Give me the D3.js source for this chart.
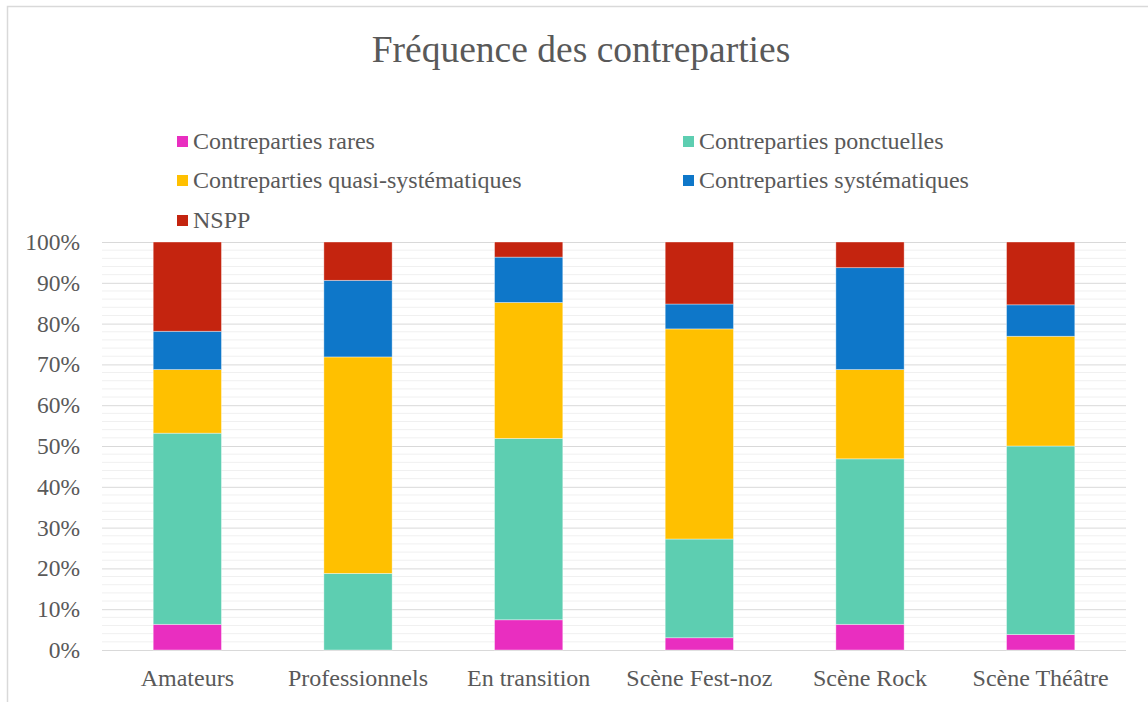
<!DOCTYPE html>
<html>
<head>
<meta charset="utf-8">
<script src="https://cdn.jsdelivr.net/npm/d3@7"></script>
<style>
  body { margin: 0; background: #fff; }
  svg { display: block; font-family: "Liberation Serif", "Times New Roman", serif; }
</style>
</head>
<body>
<svg class="chart-svg" width="1148" height="702"></svg>
<script>
// Categories and series (percent of answers per group)
var categories = ["Amateurs", "Professionnels", "En transition", "Scène Fest-noz", "Scène Rock", "Scène Théâtre"];
var seriesNames = ["Contreparties rares", "Contreparties ponctuelles", "Contreparties quasi-systématiques", "Contreparties systématiques", "NSPP"];
var rares        = [6.3, 0,    7.4,  3.0,  6.3,  3.8];
var ponctuelles  = [46.9, 18.8, 44.4, 24.2, 40.6, 46.2];
var quasiSyst    = [15.6, 53.1, 33.3, 51.5, 21.9, 26.9];
var systematiques = [9.4, 18.8, 11.1, 6.1,  25.0, 7.7];
var nspp         = [21.9, 9.4,  3.7,  15.2, 6.3,  15.4];
var yTicks = [0, 0.1, 0.2, 0.3, 0.4, 0.5, 0.6, 0.7, 0.8, 0.9, 1];
var colors = ["#e92ec0", "#5dceb1", "#ffc000", "#0e77c9", "#c4240f"];

var seriesValues = [rares, ponctuelles, quasiSyst, systematiques, nspp];

// Build table for d3.stack
var table = categories.map(function(c, i) {
    var row = {category: c};
    seriesNames.forEach(function(s, k) { row[s] = seriesValues[k][i]; });
    return row;
});

var svg = d3.select(".chart-svg"),
    margin = {top: 242, right: 22, bottom: 52, left: 102},
    width = +svg.attr("width") - margin.left - margin.right,
    height = 650 - margin.top;

// Chart frame (cut by the picture on the right and bottom)
svg.append("rect")
    .attr("x", 7.5).attr("y", 6.5)
    .attr("width", 1160).attr("height", 720)
    .attr("fill", "#fff")
    .attr("stroke", "#d9d9d9")
    .attr("stroke-width", 1.5);

// Title
svg.append("text")
    .attr("x", 581)
    .attr("y", 62)
    .attr("text-anchor", "middle")
    .attr("fill", "#595959")
    .style("font-size", "37.5px")
    .text("Fréquence des contreparties");

// Scaling
var x = d3.scaleBand().domain(categories).range([0, width]).paddingInner(0.6).paddingOuter(0.3),
    y = d3.scaleLinear().domain([0, 1]).range([height, 0]);

var chart = svg.append("g")
    .attr("transform", "translate(" + margin.left + "," + margin.top + ")");

// Minor grid every 2%
chart.append("g")
    .selectAll("line")
    .data(d3.range(0, 1.0001, 0.02).filter(function(v) { return Math.round(v * 100) % 10 != 0; }))
    .enter().append("line")
    .attr("x1", 0).attr("x2", width)
    .attr("y1", function(d) { return y(d); })
    .attr("y2", function(d) { return y(d); })
    .attr("stroke", "#f0f0f0")
    .attr("stroke-width", 1);

// Major grid + y labels
var yAxis = chart.append("g")
    .call(d3.axisLeft(y).tickValues(yTicks).tickSize(-width).tickPadding(22).tickFormat(d3.format(".0%")));
yAxis.select(".domain").remove();
yAxis.selectAll(".tick line").attr("stroke", "#d9d9d9").attr("stroke-width", 1);
yAxis.selectAll(".tick text")
    .attr("fill", "#595959")
    .style("font-size", "23.5px")
    .style("font-family", "'Liberation Serif', serif");

// X labels
var xAxis = chart.append("g")
    .attr("transform", "translate(0," + height + ")")
    .call(d3.axisBottom(x).tickSize(0).tickPadding(19));
xAxis.select(".domain").remove();
xAxis.selectAll(".tick text")
    .attr("fill", "#595959")
    .style("font-size", "24px")
    .style("font-family", "'Liberation Serif', serif");

// Stacked bars
var stacked = d3.stack().keys(seriesNames).offset(d3.stackOffsetExpand)(table);

chart.selectAll(".layer")
    .data(stacked)
    .enter().append("g")
    .attr("class", "layer")
    .attr("fill", function(d, i) { return colors[i]; })
    .selectAll("rect")
    .data(function(d) { return d; })
    .enter().append("rect")
    .attr("x", function(d) { return x(d.data.category); })
    .attr("y", function(d) { return y(d[1]); })
    .attr("width", x.bandwidth())
    .attr("height", function(d) { return y(d[0]) - y(d[1]); })
    .attr("stroke", "#ffffff")
    .attr("stroke-opacity", 0.5)
    .attr("stroke-width", 0.75);

// Legend
var legendPos = [[177, 141], [683, 141], [177, 180], [683, 180], [177, 220]];
var legend = svg.append("g").selectAll("g")
    .data(seriesNames)
    .enter().append("g")
    .attr("transform", function(d, i) { return "translate(" + legendPos[i][0] + "," + legendPos[i][1] + ")"; });
legend.append("rect")
    .attr("x", 0).attr("y", -5)
    .attr("width", 11).attr("height", 11)
    .attr("fill", function(d, i) { return colors[i]; });
legend.append("text")
    .attr("x", 16).attr("y", 8)
    .attr("fill", "#595959")
    .style("font-size", "24px")
    .text(function(d) { return d; });
</script>
</body>
</html>
